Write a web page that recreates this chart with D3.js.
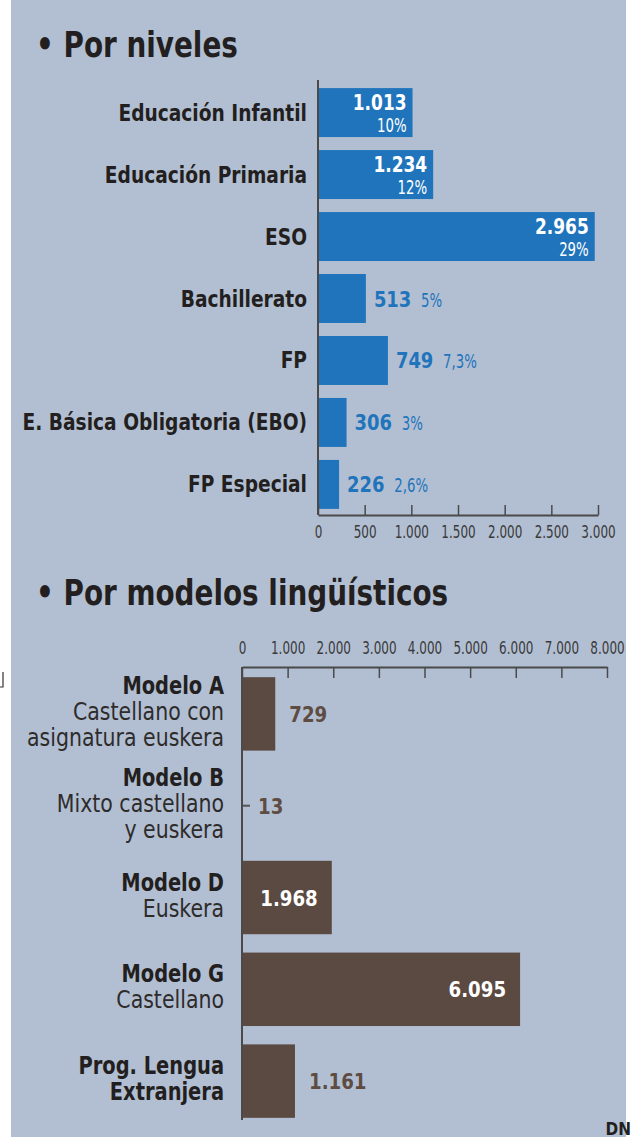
<!DOCTYPE html>
<html>
<head>
<meta charset="utf-8">
<script src="https://cdn.jsdelivr.net/npm/d3@7/dist/d3.min.js"></script>
<style>
  body { margin: 0; background: #fff; }
  svg text { font-family: "DejaVu Sans Condensed", "Liberation Sans Narrow", "Roboto", sans-serif; }
</style>
</head>
<body>
<svg id="chart" width="643" height="1139"></svg>
<script>
// Por niveles
var levels = ["Educación Infantil", "Educación Primaria", "ESO", "Bachillerato", "FP",
              "E. Básica Obligatoria (EBO)", "FP Especial"];
var levelValues = [1013, 1234, 2965, 513, 749, 306, 226];
var levelPercents = ["10%", "12%", "29%", "5%", "7,3%", "3%", "2,6%"];
var levelTicks = [0, 500, 1000, 1500, 2000, 2500, 3000];

// Por modelos lingüísticos
var models = [
  ["Modelo A", "Castellano con", "asignatura euskera"],
  ["Modelo B", "Mixto castellano", "y euskera"],
  ["Modelo D", "Euskera"],
  ["Modelo G", "Castellano"],
  ["Prog. Lengua", "Extranjera"]
];
var modelBold = [1, 1, 1, 1, 2]; // how many lines are bold
var modelValues = [729, 13, 1968, 6095, 1161];
var modelTicks = [0, 1000, 2000, 3000, 4000, 5000, 6000, 7000, 8000];

var es = d3.formatLocale({decimal: ",", thousands: ".", grouping: [3], currency: ["", "€"]});
var fmt = es.format(",d");

var BG = "#b2bfd2", BLUE = "#1f74bb", BROWN = "#5b4a41", INK = "#231f20", AXIS = "#4a4a4a";

var svg = d3.select("#chart");

// text squeezed sideways, to look like the condensed type of the original
var txt = function(parent, x, y, sx) {
  return parent.append("text").attr("transform", "translate(" + x + "," + y + ") scale(" + sx + ",1)");
};

svg.append("rect").attr("x", 11).attr("y", 0).attr("width", 615).attr("height", 1137).attr("fill", BG);

// little corner mark on the left edge
svg.append("path").attr("d", "M3,672 V687 H0").attr("fill", "none").attr("stroke", "#333").attr("stroke-width", 1.2);

var title = function(y, txtS) {
  txt(svg, 36, y, 0.86)
    .attr("font-size", 36).attr("font-weight", "bold").attr("fill", INK)
    .text("• " + txtS);
};
title(57, "Por niveles");
title(605, "Por modelos lingüísticos");

//////////////////////////////
// top chart
var x1 = d3.scaleLinear().domain([0, 3000]).range([318, 598]);
var y1 = d3.scaleBand().domain(levels).range([85, 512]).paddingInner(0.21).paddingOuter(0.05);

var g1 = svg.append("g");
g1.selectAll("rect.bar").data(levels).enter().append("rect")
  .attr("class", "bar")
  .attr("x", x1(0))
  .attr("y", function(d) { return y1(d); })
  .attr("width", function(d, i) { return x1(levelValues[i]) - x1(0); })
  .attr("height", y1.bandwidth())
  .attr("fill", BLUE);

levels.forEach(function(d, i) {
  var v = levelValues[i], yy = y1(d), bw = y1.bandwidth();
  txt(g1, 307, yy + bw / 2 + 8, 0.9)
    .attr("text-anchor", "end")
    .attr("font-size", 23).attr("font-weight", "bold").attr("fill", INK)
    .text(d);
  if (v > 900) {
    txt(g1, x1(v) - 6, yy + 22, 0.9)
      .attr("text-anchor", "end").attr("font-size", 21).attr("font-weight", "bold")
      .attr("fill", "#fff").text(fmt(v));
    txt(g1, x1(v) - 6, yy + 44, 0.74)
      .attr("text-anchor", "end").attr("font-size", 20)
      .attr("fill", "#fff").text(levelPercents[i]);
  } else {
    txt(g1, x1(v) + 8, yy + bw / 2 + 8, 0.95)
      .attr("font-size", 21).attr("font-weight", "bold").attr("fill", BLUE)
      .text(fmt(v));
    var w = String(fmt(v)).length * 13.4;
    txt(g1, x1(v) + 8 + w + 7, yy + bw / 2 + 8, 0.74)
      .attr("font-size", 20).attr("fill", BLUE)
      .text(levelPercents[i]);
  }
});

var ax1 = d3.axisBottom(x1).tickValues(levelTicks).tickFormat(fmt).tickSizeInner(-10).tickSizeOuter(0).tickPadding(8);
var ga1 = svg.append("g").attr("transform", "translate(0,515)").call(ax1);
ga1.select(".domain").attr("stroke", AXIS).attr("stroke-width", 2);
ga1.selectAll(".tick line").attr("stroke", AXIS).attr("stroke-width", 1.5);
ga1.selectAll(".tick text").attr("font-size", 18).attr("fill", "#3a3a3a").attr("dy", "0.85em")
  .attr("transform", "scale(0.74,1)")
  .attr("font-family", "DejaVu Sans Condensed, sans-serif");
svg.append("line").attr("x1", 318).attr("x2", 318).attr("y1", 80).attr("y2", 515)
  .attr("stroke", AXIS).attr("stroke-width", 2);

//////////////////////////////
// bottom chart
var x2 = d3.scaleLinear().domain([0, 8000]).range([242, 607]);
var y2 = d3.scaleBand().domain(d3.range(models.length)).range([668, 1127]).paddingInner(0.2).paddingOuter(0.1);

var g2 = svg.append("g");
g2.selectAll("rect.bar").data(modelValues).enter().append("rect")
  .attr("class", "bar")
  .attr("x", x2(0))
  .attr("y", function(d, i) { return i == 1 ? y2(i) + y2.bandwidth() / 2 - 1 : y2(i); })
  .attr("width", function(d, i) { return i == 1 ? 8 : x2(d) - x2(0); })
  .attr("height", function(d, i) { return i == 1 ? 2 : y2.bandwidth(); })
  .attr("fill", function(d, i) { return i == 1 ? "#555" : BROWN; });

models.forEach(function(lines, i) {
  var mid = y2(i) + y2.bandwidth() / 2, lh = 26;
  var top = mid - (lines.length - 1) * lh / 2 + 6;
  lines.forEach(function(l, j) {
    var bold = j < modelBold[i];
    txt(g2, 224, top + j * lh, bold ? 0.9 : 0.95)
      .attr("text-anchor", "end").attr("font-size", 24)
      .attr("font-weight", bold ? "bold" : "normal")
      .attr("fill", bold ? INK : "#2e2b2b")
      .text(l);
  });
  var v = modelValues[i];
  var inside = v > 1500;
  txt(g2, inside ? x2(v) - 14 : (i == 1 ? x2(0) + 16 : x2(v) + 14), mid + 8, 0.92)
    .attr("text-anchor", inside ? "end" : "start")
    .attr("font-size", 22).attr("font-weight", "bold")
    .attr("fill", inside ? "#fff" : "#5e4c43")
    .text(fmt(v));
});

var ax2 = d3.axisTop(x2).tickValues(modelTicks).tickFormat(fmt).tickSizeInner(-11).tickSizeOuter(0).tickPadding(6);
var ga2 = svg.append("g").attr("transform", "translate(0,667)").call(ax2);
ga2.select(".domain").attr("stroke", AXIS).attr("stroke-width", 2);
ga2.selectAll(".tick line").attr("stroke", AXIS).attr("stroke-width", 1.5);
ga2.selectAll(".tick text").attr("font-size", 18).attr("fill", "#3a3a3a").attr("y", -13)
  .attr("transform", "scale(0.74,1)")
  .attr("font-family", "DejaVu Sans Condensed, sans-serif");
svg.append("line").attr("x1", 242).attr("x2", 242).attr("y1", 667).attr("y2", 1120)
  .attr("stroke", AXIS).attr("stroke-width", 2);

// credit
svg.append("text").attr("x", 631).attr("y", 1135).attr("text-anchor", "end")
  .attr("font-family", "Liberation Serif, DejaVu Serif, serif").attr("font-weight", "bold")
  .attr("font-size", 17).attr("fill", INK).text("DN");
</script>
</body>
</html>
